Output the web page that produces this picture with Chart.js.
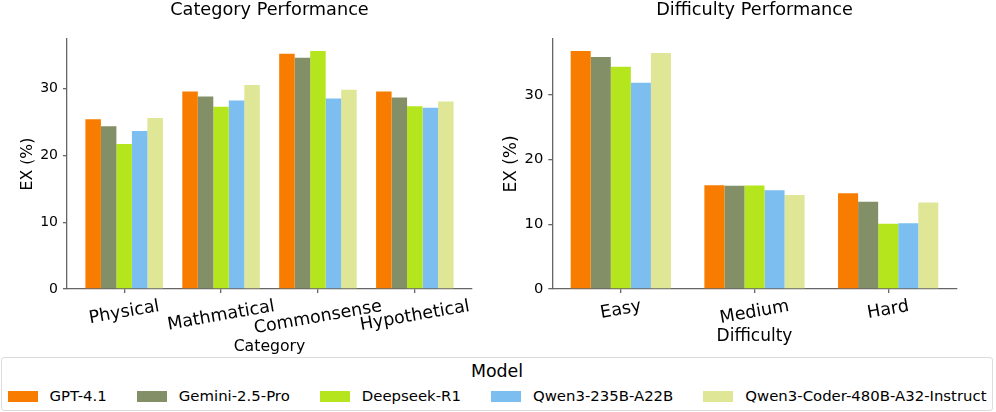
<!DOCTYPE html>
<html>
<head>
<meta charset="utf-8">
<script src="https://cdn.jsdelivr.net/npm/chart.js@4.4.0/dist/chart.umd.min.js"></script>
<style>
  body { margin: 0; background: #fff; font-family: "DejaVu Sans", sans-serif; }
  #page { position: relative; width: 996px; height: 412px; overflow: hidden; }
  .box { position: absolute; top: 0; width: 498px; height: 357px; }
  #legend { position: absolute; left: 1px; top: 357px; width: 992px; height: 54px;
            box-sizing: border-box; border: 1px solid #dcdcdc; border-radius: 3px; }
  #legend .ttl { position: absolute; left: 0; right: 0; top: 3px; text-align: center;
                 font-size: 17.4px; line-height: 21px; color: #000; }
  #legend .row { position: absolute; left: 5.5px; top: 29px; white-space: nowrap;
                 font-size: 14.9px; line-height: 18px; color: #000; }
  #legend .item { display: inline-block; margin-right: 30px; }
  #legend .patch { display: inline-block; width: 30px; height: 11px; margin-right: 12px;
                   vertical-align: -1px; }
</style>
</head>
<body>
<div id="page">
  <div class="box" style="left:0"><canvas id="catChart"></canvas></div>
  <div class="box" style="left:498px"><canvas id="diffChart"></canvas></div>
  <div id="legend"><div class="ttl">Model</div><div class="row" id="legendRow"></div></div>
</div>
<script>
// models and colours
const models = ['GPT-4.1', 'Gemini-2.5-Pro', 'Deepseek-R1', 'Qwen3-235B-A22B', 'Qwen3-Coder-480B-A32-Instruct'];
const modelColors = ['#f77c00', '#838f67', '#b5e61d', '#7bbeef', '#dfe797'];

// category performance, EX (%)
const categories = ['Physical', 'Mathmatical', 'Commonsense', 'Hypothetical'];
const catGpt41  = [25.4, 29.55, 35.2, 29.55];
const catGemini = [24.35, 28.8, 34.6, 28.65];
const catDeepseek = [21.7, 27.25, 35.6, 27.35];
const catQwen235 = [23.65, 28.2, 28.5, 27.1];
const catQwenCoder = [25.6, 30.5, 29.8, 28.05];

// difficulty performance, EX (%)
const difficulties = ['Easy', 'Medium', 'Hard'];
const diffGpt41  = [36.8, 16.05, 14.8];
const diffGemini = [35.87, 15.95, 13.47];
const diffDeepseek = [34.37, 16.0, 10.1];
const diffQwen235 = [31.9, 15.27, 10.15];
const diffQwenCoder = [36.5, 14.55, 13.36];

const yTicks = [0, 10, 20, 30];

// title + rotated x tick labels drawn the matplotlib way (centred on the tick)
const mplLook = {
  id: 'mplLook',
  afterDraw(chart, args, opts) {
    const ctx = chart.ctx, area = chart.chartArea, xs = chart.scales.x;
    ctx.save();
    ctx.fillStyle = '#000';
    ctx.textAlign = 'center';
    ctx.textBaseline = 'alphabetic';
    ctx.font = opts.headingSize + 'px "DejaVu Sans"';
    ctx.fillText(opts.heading, (area.left + area.right) / 2, 15);

    ctx.font = opts.tickSize + 'px "DejaVu Sans"';
    const a = opts.rotation * Math.PI / 180;
    const th = opts.tickSize * 1.2;
    chart.data.labels.forEach((lab, i) => {
      const w = ctx.measureText(lab).width;
      const H = w * Math.sin(a) + th * Math.cos(a);
      const x = xs.getPixelForValue(i);
      const y = area.bottom + 7 + H / 2;
      ctx.save();
      ctx.translate(x, y);
      ctx.rotate(-a);
      ctx.textBaseline = 'middle';
      ctx.fillText(lab, 0, 0);
      ctx.restore();
    });
    ctx.restore();
  }
};

function makeChart(id, labels, series, cfg) {
  const datasets = series.map((vals, k) => ({
    label: models[k],
    data: vals.map((v, i) => ({ x: i, y: v })),
    backgroundColor: modelColors[k],
    borderWidth: 0,
    categoryPercentage: cfg.groupWidth,
    barPercentage: 1.0
  }));
  return new Chart(id, {
    type: 'bar',
    data: { labels: labels, datasets: datasets },
    plugins: [mplLook],
    options: {
      responsive: true,
      maintainAspectRatio: false,
      animation: false,
      layout: { padding: { top: 39, right: cfg.padRight, bottom: 0, left: 0 } },
      plugins: {
        legend: { display: false },
        tooltip: { enabled: false },
        title: { display: false },
        mplLook: { heading: cfg.heading, headingSize: 17.7, tickSize: 17.5, rotation: 10 }
      },
      scales: {
        x: {
          type: 'linear',
          min: cfg.xMin,
          max: cfg.xMax,
          offset: false,
          afterBuildTicks: s => { s.ticks = labels.map((l, i) => ({ value: i })); },
          grid: { display: true, offset: false, drawOnChartArea: false, drawTicks: true,
                  tickLength: 4, color: '#666', lineWidth: 1.3 },
          border: { display: true, color: '#666', width: 1.3 },
          ticks: { callback: () => '', padding: 0 },
          title: { display: true, text: cfg.xTitle, color: '#000',
                   font: { family: 'DejaVu Sans', size: cfg.xTitleSize },
                   padding: { top: 0, bottom: cfg.xTitlePad } },
          afterFit: s => { s.height = 68; }
        },
        y: {
          min: 0,
          max: cfg.yMax,
          grid: { display: true, drawOnChartArea: false, drawTicks: true,
                  tickLength: 4, color: '#666', lineWidth: 1.3 },
          border: { display: true, color: '#666', width: 1.3 },
          afterBuildTicks: s => { s.ticks = yTicks.map(v => ({ value: v })); },
          ticks: { color: '#000', padding: 5,
                   font: { family: 'DejaVu Sans', size: cfg.yTickSize } },
          title: { display: true, text: 'EX (%)', color: '#000',
                   font: { family: 'DejaVu Sans', size: cfg.yTitleSize },
                   padding: { top: cfg.yTitlePad, bottom: 0 } },
          afterFit: s => { s.width = cfg.yWidth; }
        }
      }
    }
  });
}

makeChart('catChart', categories,
  [catGpt41, catGemini, catDeepseek, catQwen235, catQwenCoder],
  { heading: 'Category Performance', xTitle: 'Category', yMax: 37.4, padRight: 26,
    xMin: -0.59, xMax: 3.59, groupWidth: 0.8,
    yWidth: 67, yTitleSize: 15.7, yTitlePad: 18.6, yTickSize: 14,
    xTitleSize: 15.7, xTitlePad: 0.9 });

makeChart('diffChart', difficulties,
  [diffGpt41, diffGemini, diffDeepseek, diffQwen235, diffQwenCoder],
  { heading: 'Difficulty Performance', xTitle: 'Difficulty', yMax: 38.65, padRight: 39.3,
    xMin: -0.5125, xMax: 2.5125, groupWidth: 0.75,
    yWidth: 54.3, yTitleSize: 17, yTitlePad: 3.8, yTickSize: 14.7,
    xTitleSize: 17, xTitlePad: 10.3 });

// shared legend below both panels
const row = document.getElementById('legendRow');
models.forEach((m, k) => {
  const it = document.createElement('span');
  it.className = 'item';
  const p = document.createElement('span');
  p.className = 'patch';
  p.style.background = modelColors[k];
  it.appendChild(p);
  it.appendChild(document.createTextNode(m));
  row.appendChild(it);
});
</script>
</body>
</html>
